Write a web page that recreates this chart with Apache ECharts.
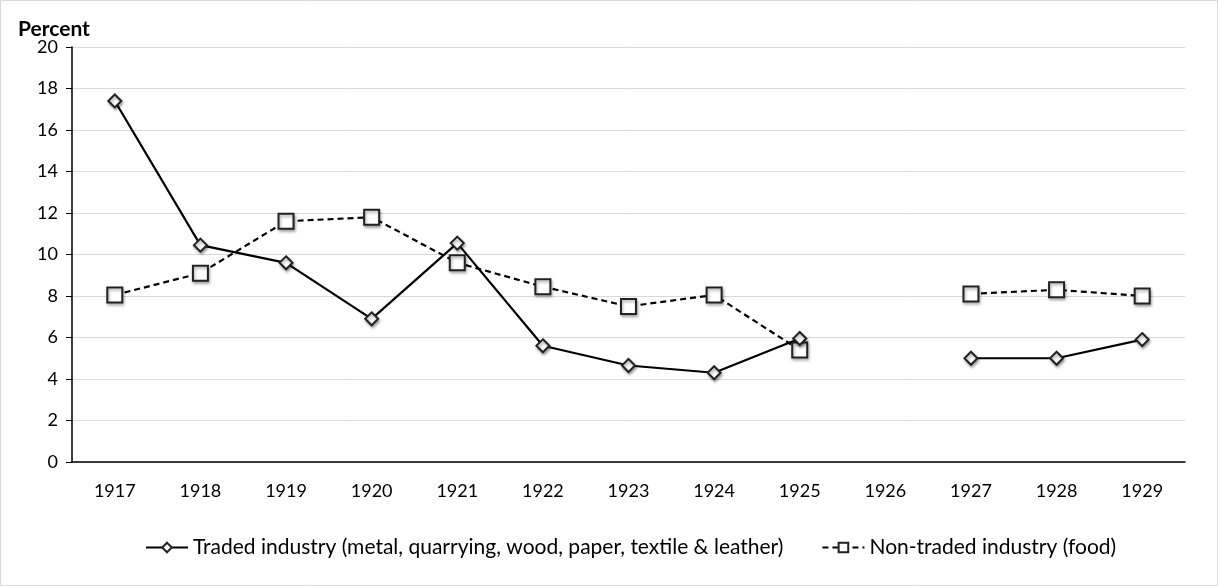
<!DOCTYPE html>
<html>
<head>
<meta charset="utf-8">
<script src="https://cdn.jsdelivr.net/npm/echarts@6/dist/echarts.min.js"></script>
<style>
  html, body { margin: 0; padding: 0; background: #fff; }
  #main { width: 1218px; height: 586px; }
</style>
</head>
<body>
<div id="main"></div>
<script>
const years = ["1917", "1918", "1919", "1920", "1921", "1922", "1923", "1924", "1925", "1926", "1927", "1928", "1929"];
const traded = [17.4, 10.45, 9.6, 6.9, 10.55, 5.6, 4.65, 4.3, 5.95, null, 5.0, 5.0, 5.9];
const nonTraded = [8.05, 9.1, 11.6, 11.8, 9.6, 8.45, 7.5, 8.05, 5.4, null, 8.1, 8.3, 8.0];
const yTicks = { min: 0, max: 20, step: 2 };

const font = "Lato, 'Open Sans', sans-serif";
const markerStyle = {
  color: "#fff",
  borderColor: "#222",
  borderWidth: 2,
  shadowBlur: 3,
  shadowOffsetX: 1,
  shadowOffsetY: 2,
  shadowColor: "rgba(0,0,0,0.35)"
};

const chart = echarts.init(document.getElementById("main"));
chart.setOption({
  animation: false,
  textStyle: { fontFamily: font },
  title: {
    text: "Percent",
    left: 13,
    top: 14,
    textStyle: { fontFamily: font, fontWeight: "bold", fontSize: 21, color: "#000" }
  },
  graphic: [{
    type: "rect",
    shape: { x: 0.5, y: 0.5, width: 1217, height: 585 },
    style: { fill: null, stroke: "#d9d9d9", lineWidth: 1 },
    silent: true
  }],
  grid: { left: 72, right: 33, top: 47, bottom: 124 },
  legend: {
    bottom: 23,
    left: 140,
    itemWidth: 42,
    itemHeight: 12,
    itemGap: 38,
    textStyle: { fontFamily: font, fontSize: 21, color: "#000" },
    data: [
      "Traded industry (metal, quarrying, wood, paper, textile & leather)",
      "Non-traded industry (food)"
    ]
  },
  xAxis: {
    type: "category",
    data: years,
    axisLine: { lineStyle: { color: "#000", width: 1.5 } },
    axisTick: { show: false },
    axisLabel: { color: "#000", fontSize: 18, margin: 20 }
  },
  yAxis: {
    type: "value",
    min: yTicks.min,
    max: yTicks.max,
    interval: yTicks.step,
    axisLine: { show: true, lineStyle: { color: "#000", width: 1.5 } },
    axisTick: { show: true, length: 6, lineStyle: { color: "#000" } },
    axisLabel: { color: "#000", fontSize: 18, margin: 14 },
    splitLine: { lineStyle: { color: "#d9d9d9" } }
  },
  series: [
    {
      name: "Traded industry (metal, quarrying, wood, paper, textile & leather)",
      type: "line",
      data: traded,
      connectNulls: false,
      symbol: "diamond",
      symbolSize: 13,
      showAllSymbol: true,
      lineStyle: { color: "#000", width: 2.2, type: "solid" },
      itemStyle: markerStyle,
      z: 3
    },
    {
      name: "Non-traded industry (food)",
      type: "line",
      data: nonTraded,
      connectNulls: false,
      symbol: "rect",
      symbolSize: 15,
      showAllSymbol: true,
      lineStyle: { color: "#000", width: 2.2, type: [6, 4] },
      itemStyle: markerStyle,
      z: 2
    }
  ]
});
</script>
</body>
</html>
